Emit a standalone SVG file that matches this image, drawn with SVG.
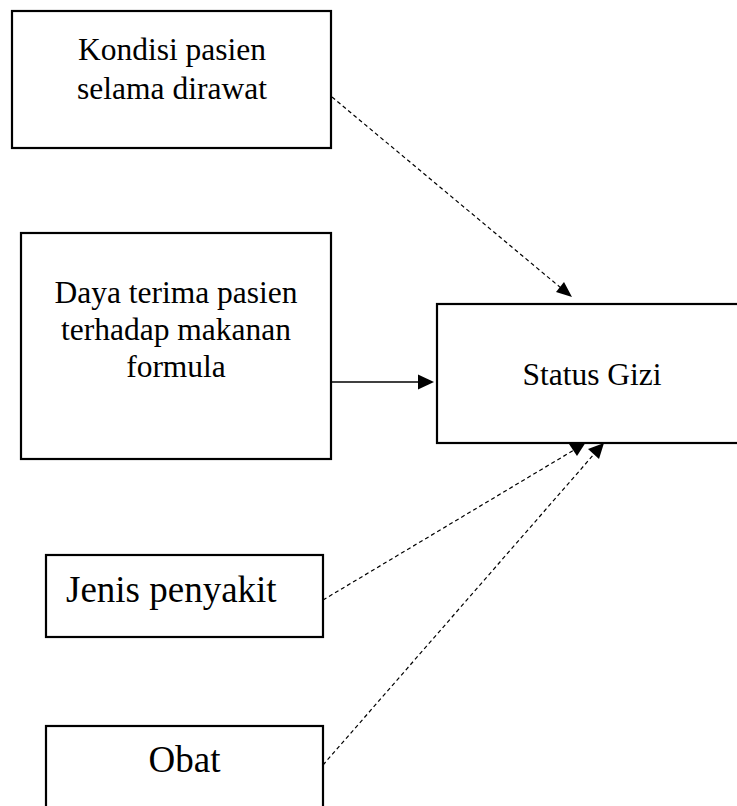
<svg xmlns="http://www.w3.org/2000/svg" width="737" height="806" viewBox="0 0 737 806">
<style>
.box{fill:#fff;stroke:#000;stroke-width:2.2}
.t{font-family:"Liberation Serif","Times New Roman",serif;fill:#000;text-anchor:middle}
.s{font-size:31.5px}
.l{font-size:37px}
.c{stroke:#000;stroke-width:1.2;fill:none}
.d{stroke-dasharray:4 3}
.h{fill:#000;stroke:none}
</style>
<rect width="737" height="806" fill="#fff"/>
<g id="connectors">
<line class="c d" x1="332" y1="97" x2="561" y2="288"/>
<polygon class="h" points="572,297 556,292 564,282"/>
<line class="c" x1="331" y1="382" x2="420" y2="382" style="stroke-width:1.5"/>
<polygon class="h" points="434,382 418,374.5 418,389.5"/>
<line class="c d" x1="323" y1="600" x2="574" y2="450"/>
<polygon class="h" points="586,442 569,444 577,456"/>
<line class="c d" x1="323" y1="765" x2="595" y2="453"/>
<polygon class="h" points="604,443 588,449 599,459"/>
</g>
<g id="kondisi">
<rect class="box" x="12" y="11" width="319" height="137"/>
<text class="t s" x="172" y="60">Kondisi pasien</text>
<text class="t s" x="172" y="99">selama dirawat</text>
</g>
<g id="daya">
<rect class="box" x="21" y="233" width="310" height="226"/>
<text class="t s" x="176" y="303">Daya terima pasien</text>
<text class="t s" x="176" y="340">terhadap makanan</text>
<text class="t s" x="176" y="377">formula</text>
</g>
<g id="status">
<rect class="box" x="437" y="304" width="310" height="139"/>
<text class="t s" x="592" y="385">Status Gizi</text>
</g>
<g id="jenis">
<rect class="box" x="46" y="555" width="277" height="82"/>
<text class="t l" x="66" y="602" style="text-anchor:start">Jenis penyakit</text>
</g>
<g id="obat">
<rect class="box" x="46" y="726" width="277" height="90"/>
<text class="t l" x="184.5" y="772">Obat</text>
</g>
</svg>
